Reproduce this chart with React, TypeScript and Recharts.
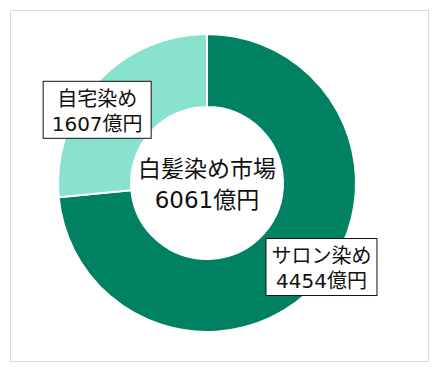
import { PieChart, Pie, Cell } from "recharts";

const names = ["サロン染め", "自宅染め"];
const values = [4454, 1607];
const unit = "億円";
const centerTitle = "白髪染め市場";
const total = 6061;

const COLORS = ["#008161", "#88E2CD"];
const FONT = '"DejaVu Sans", "Noto Sans CJK JP", sans-serif';
const RAD = Math.PI / 180;

// label box layout: angle shift from slice mid angle, distance from center, box width
const LABEL_LAYOUT: Record<string, { shift: number; r: number; w: number }> = {
  サロン染め: { shift: 6, r: 142, w: 111 },
  自宅染め: { shift: 8.6, r: 132, w: 108 },
};

const data = names.map((name, i) => ({ name, value: values[i] }));

function renderLabel(props: any) {
  const { cx, cy, midAngle, name, value, index } = props;
  const lay = LABEL_LAYOUT[name];
  const a = (midAngle + lay.shift) * RAD;
  const x = cx + lay.r * Math.cos(-a);
  const y = cy + lay.r * Math.sin(-a);
  const h = 57;
  return (
    <g>
      {/* center title drawn once with the first label */}
      {index === 0 && (
        <g>
          <text
            x={cx}
            y={cy - 14}
            textAnchor="middle"
            dominantBaseline="central"
            fontSize={23}
            fontFamily={FONT}
            fill="#111"
          >
            {centerTitle}
          </text>
          <text
            x={cx}
            y={cy + 17}
            textAnchor="middle"
            dominantBaseline="central"
            fontSize={23}
            fontFamily={FONT}
            fill="#111"
          >
            {`${total}${unit}`}
          </text>
        </g>
      )}
      <rect
        x={x - lay.w / 2}
        y={y - h / 2}
        width={lay.w}
        height={h}
        fill="#fff"
        stroke="#111"
        strokeWidth={1}
      />
      <text
        x={x}
        y={y - 11}
        textAnchor="middle"
        dominantBaseline="central"
        fontSize={20}
        fontFamily={FONT}
        fill="#111"
      >
        {name}
      </text>
      <text
        x={x}
        y={y + 14}
        textAnchor="middle"
        dominantBaseline="central"
        fontSize={20}
        fontFamily={FONT}
        fill="#111"
      >
        {`${value}${unit}`}
      </text>
    </g>
  );
}

export default function App() {
  return (
    <div
      style={{
        position: "absolute",
        left: 10,
        top: 10,
        width: 419,
        height: 352,
        border: "1px solid #d9d9d9",
        boxSizing: "border-box",
        background: "#fff",
      }}
    >
      <PieChart
        width={417}
        height={350}
        margin={{ top: 0, right: 0, bottom: 0, left: 0 }}
      >
        <Pie
          data={data}
          dataKey="value"
          nameKey="name"
          cx={196}
          cy={172}
          innerRadius={76}
          outerRadius={149}
          startAngle={90}
          endAngle={-270}
          stroke="#fff"
          strokeWidth={2}
          labelLine={false}
          label={renderLabel}
          isAnimationActive={false}
        >
          {data.map((d, i) => (
            <Cell key={d.name} fill={COLORS[i]} />
          ))}
        </Pie>
      </PieChart>
    </div>
  );
}
